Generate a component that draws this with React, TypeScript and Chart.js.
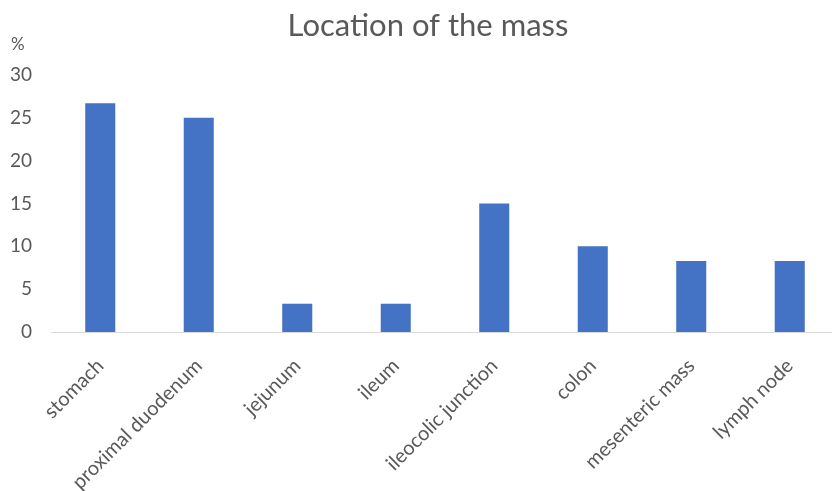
import React, { useEffect, useRef } from "react";
import { Chart, registerables } from "chart.js";

Chart.register(...registerables);

const categories = [
  "stomach",
  "proximal duodenum",
  "jejunum",
  "ileum",
  "ileocolic junction",
  "colon",
  "mesenteric mass",
  "lymph node",
];
const percentValues = [26.7, 25, 3.3, 3.3, 15, 10, 8.3, 8.3];
const chartTitle = "Location of the mass";
const yUnitLabel = "%";
const yTicks = [0, 5, 10, 15, 20, 25, 30];

const FONT = "Lato, 'Open Sans', sans-serif";
const TEXT = "#595959";

const overlayPlugin = {
  id: "overlayText",
  afterDraw(chart: any) {
    const ctx = chart.ctx;
    ctx.save();
    ctx.fillStyle = TEXT;
    ctx.textBaseline = "middle";
    ctx.textAlign = "center";
    ctx.font = `31px ${FONT}`;
    ctx.fillText(chartTitle, 428, 26);
    ctx.textAlign = "left";
    ctx.font = `17px ${FONT}`;
    ctx.fillText(yUnitLabel, 11, 45);
    ctx.restore();
  },
};

export default function App() {
  const ref = useRef<HTMLCanvasElement | null>(null);
  useEffect(() => {
    document.body.style.margin = "0";
    const chart = new Chart(ref.current as HTMLCanvasElement, {
      type: "bar",
      data: {
        labels: categories,
        datasets: [
          {
            data: percentValues,
            backgroundColor: "#4472C4",
            borderWidth: 0,
            barPercentage: 0.305,
            categoryPercentage: 1,
          },
        ],
      },
      options: {
        animation: false,
        responsive: false,
        layout: { padding: { top: 75, left: 0, right: 1, bottom: 0 } },
        plugins: {
          legend: { display: false },
          title: { display: false },
          tooltip: { enabled: false },
        },
        scales: {
          x: {
            grid: { display: false, drawTicks: false },
            border: { display: true, color: "#d9d9d9", width: 1 },
            ticks: {
              color: TEXT,
              font: { family: FONT, size: 20 },
              maxRotation: 45,
              minRotation: 45,
              padding: 22,
              autoSkip: false,
            },
            afterFit(scale: any) {
              scale.height = 159;
              scale.paddingLeft = 0;
              scale.paddingRight = 0;
            },
          },
          y: {
            min: 0,
            max: 30,
            afterBuildTicks(scale: any) {
              scale.ticks = yTicks.map((v) => ({ value: v }));
            },
            grid: { display: false, drawTicks: false },
            border: { display: false },
            ticks: {
              color: TEXT,
              font: { family: FONT, size: 19 },
              padding: 19,
            },
            afterFit(scale: any) {
              scale.width = 51;
            },
          },
        },
      },
      plugins: [overlayPlugin],
    });
    return () => chart.destroy();
  }, []);
  return (
    <div style={{ position: "relative", width: 832, height: 491, overflow: "hidden" }}>
      <canvas ref={ref} width={840} height={491} style={{ position: "absolute", left: 0, top: 0 }} />
    </div>
  );
}
